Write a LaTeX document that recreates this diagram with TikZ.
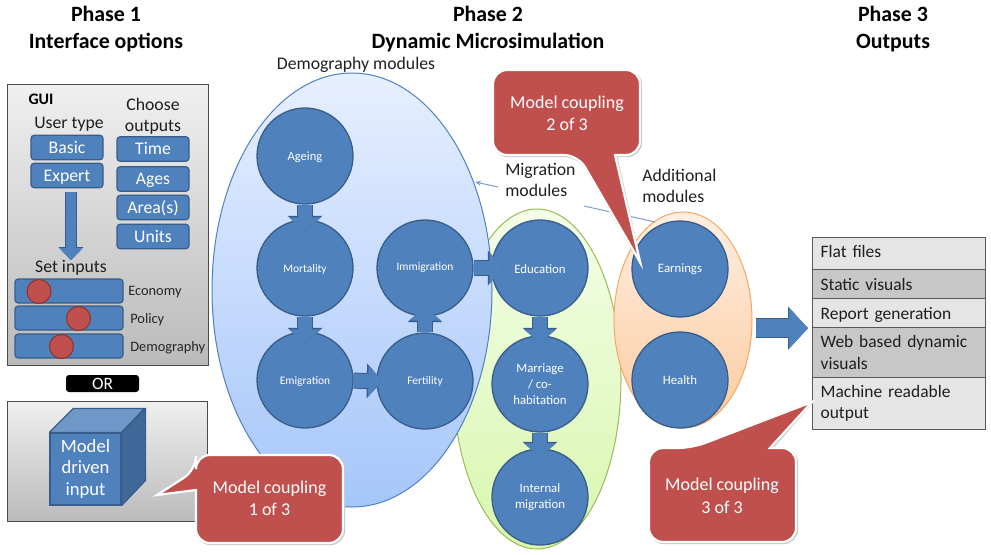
\documentclass[tikz,border=0pt]{standalone}
\usepackage{fontspec}
\setmainfont{Carlito}
\usetikzlibrary{shapes.geometric,arrows.meta}
\def\u{0.75pt}
\newcommand\nudge[2]{\raisebox{#1}[\height][\depth]{#2}}
\definecolor{nodeblue}{HTML}{4F81BD}
\definecolor{nodeedge}{HTML}{385D8A}
\definecolor{calloutred}{HTML}{C0504D}
\definecolor{redge}{HTML}{8C3836}
\definecolor{bluetop}{HTML}{E6EFFF}
\definecolor{bluebot}{HTML}{A6C6FA}
\definecolor{greentop}{HTML}{F4FDE8}
\definecolor{greenbot}{HTML}{D8F7AE}
\definecolor{greenedge}{HTML}{9BBB59}
\definecolor{orangetop}{HTML}{FEEFE2}
\definecolor{orangebot}{HTML}{FBCB9E}
\definecolor{orangeedge}{HTML}{F4A862}
\tikzset{
  x=0.75pt,y=-0.75pt,
  title/.style={font=\bfseries\fontsize{16.4}{20.2}\selectfont,align=center,inner sep=0,text=black},
  lbl/.style={font=\fontsize{13.3}{15.7}\selectfont,align=left,inner sep=0,text=black!88},
  smalllbl/.style={font=\fontsize{10.8}{12}\selectfont,inner sep=0,anchor=west,text=black!85},
  panel/.style={draw=black!70,line width=1.2*\u,top color=black!6,bottom color=black!27,inner sep=0,anchor=north west},
  btn/.style={draw=nodeedge,line width=1.2*\u,fill=nodeblue,rounded corners=3.2*\u,text=white,inner sep=0,minimum width=72*\u,minimum height=24.5*\u,text height=8.4pt,text depth=0pt,font=\fontsize{13.3}{14}\selectfont},
  slider/.style={draw=nodeedge,line width=1.2*\u,fill=nodeblue,rounded corners=3.2*\u,inner sep=0,minimum width=108*\u,minimum height=24*\u},
  knob/.style={circle,draw=redge,line width=1.2*\u,fill=calloutred,inner sep=0,minimum size=24*\u},
  module/.style={circle,draw=nodeedge,line width=1.3*\u,fill=nodeblue,text=white,inner sep=0,minimum size=96*\u,align=center,font=\fontsize{9.6}{12.2}\selectfont},
  smod/.style={module,font=\fontsize{8.6}{11}\selectfont},
  group/.style={ellipse,inner sep=0,line width=1*\u},
  blockarrow/.style={nodeblue,line width=14*\u,-{Triangle[width=31*\u,length=14*\u]},
    preaction={draw=nodeedge,line width=16*\u,-{Triangle[width=34*\u,length=15.5*\u]}}},
  thinarrow/.style={draw=nodeblue!75,line width=1*\u},
  calloutshape/.style={fill=calloutred,draw=white,line width=2.2*\u},
  calloutshadow/.style={draw=black!22,line width=2.4*\u,shift={(1,1)}},
  callouttext/.style={text=white,align=center,inner sep=0,font=\fontsize{13.5}{16.8}\selectfont},
  cell/.style={draw=black!65,line width=1.2*\u,anchor=north west,inner xsep=8*\u,inner ysep=0,minimum width=173*\u,text width=157*\u,align=left,font=\fontsize{13.1}{16}\selectfont,text=black!88},
  cella/.style={cell,fill=black!10},
  cellb/.style={cell,fill=black!22},
}
\begin{document}
\begin{tikzpicture}
\useasboundingbox (0,0) rectangle (991,554);
% titles
\node[title] (t1) at (106,29.5) {Phase 1\\Interface options};
\node[title] (t2) at (488,29.5) {Phase 2\\Dynamic Microsimulation};
\node[title] (t3) at (893,29.5) {Phase 3\\Outputs};
% GUI panel
\node[panel,minimum width=201*\u,minimum height=281*\u] (gui) at (7,84) {};
\node[font=\bfseries\fontsize{12}{14}\selectfont,inner sep=0] (guil) at (41,99.5) {GUI};
\node[lbl] (ut) at (69,124) {User type};
\node[lbl,align=center] (co) at (153,116.5) {Choose\\outputs};
\node[btn] (basic) at (67,147.5) {Basic};
\node[btn] (expert) at (67,175.5) {Expert};
\node[btn] (time) at (153,149) {Time};
\node[btn] (ages) at (153,179) {Ages};
\node[btn] (area) at (153,207.5) {Area(s)};
\node[btn] (units) at (153,236.5) {Units};
\node[lbl] (si) at (71,268) {Set inputs};
\draw[nodeblue,line width=10*\u,-{Triangle[width=22*\u,length=12*\u]},preaction={draw=nodeedge,line width=11.5*\u,-{Triangle[width=24*\u,length=13*\u]}},shorten <=4*\u] (expert.south -| si.north) -- (si.north);
\node[slider] (s1) at (69,291) {};
\node[slider] (s2) at (69,318) {};
\node[slider] (s3) at (69,346) {};
\node[knob] (k1) at (39,291.5) {};
\node[knob] (k2) at (78.5,318.5) {};
\node[knob] (k3) at (61.5,346.5) {};
\node[smalllbl] (l1) at (128,292) {Economy};
\node[smalllbl] (l2) at (130,320) {Policy};
\node[smalllbl] (l3) at (130,348) {Demography};
% OR
\node[fill=black,rounded corners=3*\u,text=white,inner sep=0,minimum width=73*\u,minimum height=17*\u,font=\fontsize{13}{14}\selectfont] (or) at (102.5,383.5) {OR};
% model driven panel
\node[panel,minimum width=200*\u,minimum height=120*\u] (mpanel) at (7,401) {};
\node[draw=nodeedge,line width=1.2*\u,fill=nodeblue,text=white,inner sep=0,minimum width=71*\u,minimum height=72*\u,align=center,font=\fontsize{14}{16}\selectfont] (cube) at (85.5,469) {Model\\driven\\input};
\draw[draw=nodeedge,line width=1.2*\u,fill=nodeblue!82!white,line join=round] (cube.north west) -- ++(24,-24) -- ++(71,0) -- (cube.north east) -- cycle;
\draw[draw=nodeedge,line width=1.2*\u,fill=nodeblue!80!black,line join=round] (cube.north east) -- ++(24,-24) -- ++(0,72) -- (cube.south east) -- cycle;
% module groups
\node[group,draw=greenedge,top color=greentop,bottom color=greenbot,minimum width=168*\u,minimum height=340*\u] (gmig) at (537,379) {};
\node[group,draw=orangeedge,top color=orangetop,bottom color=orangebot,minimum width=138*\u,minimum height=216*\u] (gadd) at (683,320) {};
\node[group,draw=nodeblue,top color=bluetop,bottom color=bluebot,minimum width=280*\u,minimum height=434*\u] (gdem) at (352,290) {};
% group labels
\node[lbl] (ldem) at (356,64.5) {Demography modules};
\node[lbl,anchor=north west] (lmig) at (505,163) {Migration\\modules};
\node[lbl,anchor=north west] (ladd) at (642,169) {Additional\\modules};
\coordinate (m1) at (498,187);
\coordinate (m2) at (475,182);
\coordinate (m3) at (584,206);
\coordinate (m4) at (655,222);
\draw[thinarrow,-{Stealth[length=6*\u,width=5*\u]}] (m1) -- (m2);
\draw[thinarrow] (m3) -- (m4);
% modules
\node[smod,font=\fontsize{9.4}{11}\selectfont] (ageing) at (305,156) {\nudge{-0.8pt}{Ageing}};
\node[smod] (mortality) at (305,268) {\nudge{-0.8pt}{Mortality}};
\node[smod] (emigration) at (305,380) {\nudge{-1.2pt}{Emigration}};
\node[smod] (fertility) at (425,381) {Fertility};
\node[smod] (immigration) at (425,268) {Immigration};
\node[module] (education) at (540,268) {\nudge{-0.6pt}{Education}};
\node[module] (marriage) at (540,384) {Marriage\\/ co-\\habitation};
\node[module] (internal) at (540,497) {Internal\\migration};
\node[module] (earnings) at (680,269) {Earnings};
\node[module] (health) at (680,380) {Health};
% block arrows
\draw[blockarrow,shorten >=-12*\u] (ageing) -- (mortality.north);
\draw[blockarrow,shorten >=-12*\u] (mortality) -- (emigration.north);
\draw[blockarrow,shorten >=-6*\u] (emigration) -- (fertility.west);
\draw[blockarrow,shorten >=-10*\u] (fertility) -- (immigration.south);
\draw[blockarrow,shorten >=-12*\u] (immigration) -- (education.west);
\draw[blockarrow,shorten >=-8*\u] (education) -- (marriage.north);
\draw[blockarrow,shorten >=-9*\u] (marriage) -- (internal.north);
% outputs
\node[cella,minimum height=32*\u] (c1) at (812,237) {\nudge{1.5pt}{Flat files}};
\node[cellb,minimum height=29*\u] (c2) at (812,269) {Static visuals};
\node[cella,minimum height=29*\u] (c3) at (812,298) {\nudge{-1.2pt}{Report generation}};
\node[cellb,minimum height=50*\u] (c4) at (812,327) {Web based dynamic\\visuals};
\node[cella,minimum height=52*\u] (c5) at (812,377) {Machine readable\\output};
\draw[nodeblue,line width=18*\u,-{Triangle[width=40*\u,length=19*\u]},preaction={draw=nodeedge,line width=19.5*\u,-{Triangle[width=42*\u,length=20*\u]}},shorten <=3*\u,shorten >=4*\u] (gadd.east |- c3.south west) -- (c3.south west);
% callouts
\coordinate (tip1) at (157,495);
\coordinate (tip2) at (640,262);
\coordinate (tip3) at (812,402);
\draw[calloutshadow] (196,470) [sharp corners] -- (tip1) -- (196,490) [rounded corners=14*\u] -- (196,543) -- (343,543) -- (343,455) -- (196,455) -- cycle;
\draw[calloutshape] (196,470) [sharp corners] -- (tip1) -- (196,490) [rounded corners=14*\u] -- (196,543) -- (343,543) -- (343,455) -- (196,455) -- cycle;
\draw[calloutshadow] (578,155) [sharp corners] -- (tip2) -- (615,155) [rounded corners=14*\u] -- (640,155) -- (640,70) -- (493,70) -- (493,155) -- cycle;
\draw[calloutshape] (578,155) [sharp corners] -- (tip2) -- (615,155) [rounded corners=14*\u] -- (640,155) -- (640,70) -- (493,70) -- (493,155) -- cycle;
\draw[calloutshadow] (692,448) [sharp corners] -- (tip3) -- (770,448) [rounded corners=14*\u] -- (796,448) -- (796,542) -- (649,542) -- (649,448) -- cycle;
\draw[calloutshape] (692,448) [sharp corners] -- (tip3) -- (770,448) [rounded corners=14*\u] -- (796,448) -- (796,542) -- (649,542) -- (649,448) -- cycle;
\node[callouttext] (n1) at (269.5,498.5) {Model coupling\\1 of 3};
\node[callouttext] (n2) at (567,113.5) {Model coupling\\2 of 3};
\node[callouttext] (n3) at (722,496) {Model coupling\\3 of 3};
\end{tikzpicture}
\end{document}
